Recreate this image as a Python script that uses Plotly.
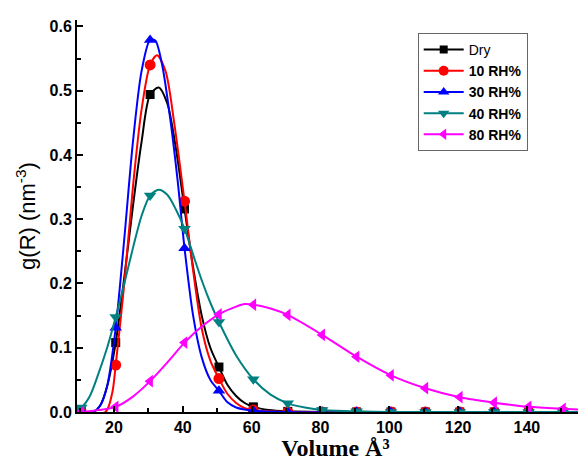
import plotly.graph_objects as go

# ---- data ----
marker_x = [10.5, 20.5, 30.5, 40.5, 50.5, 60.5, 70.5, 80.5, 90.5, 100.5, 110.5, 120.5, 130.5, 140.5, 150.5]

dry_y = [0.002, 0.108, 0.494, 0.316, 0.070, 0.008, 0.001, 0.0, 0.0, 0.0, 0.0, 0.0, 0.0, 0.0, 0.0]
rh10_y = [0.0, 0.073, 0.540, 0.328, 0.052, 0.003, 0.0, 0.0, 0.0, 0.0, 0.0, 0.0, 0.0, 0.0, 0.0]
rh30_y = [0.001, 0.131, 0.579, 0.255, 0.033, 0.002, 0.0, 0.0, 0.0, 0.0, 0.0, 0.0, 0.0, 0.0, 0.0]
rh40_y = [0.007, 0.148, 0.337, 0.285, 0.140, 0.051, 0.0135, 0.003, 0.001, 0.0, 0.0, 0.0, 0.0, 0.0, 0.0]
rh80_y = [0.0, 0.008, 0.048, 0.108, 0.152, 0.167, 0.151, 0.120, 0.086, 0.057, 0.037, 0.023, 0.0145, 0.008, 0.005]

# fitted curves
dry_cx = [9.25, 14, 16, 18, 20.5, 23, 25.5, 28, 30.5, 33, 35.5, 38, 40.5, 43, 45.5, 48, 50.5, 53, 55.5, 58, 60.5, 65, 70.5, 80, 159.5]
dry_cy = [0.0, 0.0, 0.01, 0.04, 0.108, 0.21, 0.32, 0.42, 0.494, 0.505, 0.48, 0.41, 0.316, 0.225, 0.15, 0.10, 0.07, 0.042, 0.025, 0.014, 0.008, 0.003, 0.001, 0.0, 0.0]

rh10_cx = [9.25, 17.5, 19.5, 20.5, 23, 25.5, 28, 30.5, 32.5, 35, 37.5, 40.5, 43, 45.5, 48, 50.5, 53, 55.5, 58, 60.5, 65, 75, 159.5]
rh10_cy = [0.0, 0.0, 0.03, 0.073, 0.2, 0.35, 0.47, 0.54, 0.555, 0.53, 0.45, 0.328, 0.22, 0.13, 0.08, 0.052, 0.028, 0.014, 0.006, 0.003, 0.001, 0.0, 0.0]

rh30_cx = [9.25, 14, 16, 18, 20.5, 23, 25.5, 28, 30.5, 32, 34, 36.5, 38.5, 40.5, 43, 45.5, 48, 50.5, 53, 55.5, 60.5, 70, 159.5]
rh30_cy = [0.0, 0.0, 0.01, 0.04, 0.131, 0.27, 0.42, 0.53, 0.579, 0.578, 0.54, 0.45, 0.36, 0.255, 0.15, 0.085, 0.05, 0.033, 0.015, 0.007, 0.002, 0.0, 0.0]

rh40_cx = [9.25, 10.5, 13, 15.5, 18, 20.5, 23, 25.5, 28, 30.5, 33, 35.5, 38, 40.5, 43, 45.5, 48, 50.5, 55.5, 60.5, 65.5, 70.5, 75.5, 80.5, 90.5, 100, 159.5]
rh40_cy = [0.004, 0.007, 0.025, 0.06, 0.10, 0.148, 0.2, 0.255, 0.305, 0.337, 0.346, 0.338, 0.315, 0.285, 0.245, 0.205, 0.17, 0.14, 0.088, 0.051, 0.027, 0.0135, 0.007, 0.003, 0.001, 0.0, 0.0]

rh80_cx = [9.25, 10.5, 15.5, 20.5, 25.5, 30.5, 35.5, 40.5, 45.5, 50.5, 55.5, 58, 60.5, 65.5, 70.5, 80.5, 90.5, 100.5, 110.5, 120.5, 130.5, 140.5, 150.5, 159.5]
rh80_cy = [0.0, 0.0, 0.003, 0.008, 0.024, 0.048, 0.077, 0.108, 0.133, 0.152, 0.164, 0.168, 0.167, 0.161, 0.151, 0.120, 0.086, 0.057, 0.037, 0.023, 0.0145, 0.008, 0.005, 0.003]

series = [
    ("Dry", dry_y, dry_cx, dry_cy, "#000000", "square", 9),
    ("<b>10 RH%</b>", rh10_y, rh10_cx, rh10_cy, "#FF0000", "circle", 11),
    ("<b>30 RH%</b>", rh30_y, rh30_cx, rh30_cy, "#0000FF", "triangle-up", 11),
    ("<b>40 RH%</b>", rh40_y, rh40_cx, rh40_cy, "#008080", "triangle-down", 11),
    ("<b>80 RH%</b>", rh80_y, rh80_cx, rh80_cy, "#FF00FF", "triangle-left", 11),
]

fig = go.Figure()
for name, my, cx, cy, col, sym, ms in series:
    fig.add_trace(go.Scatter(x=cx, y=cy, mode="lines", line=dict(color=col, width=2, shape="spline", smoothing=0.8),
                             showlegend=False, hoverinfo="skip"))
    fig.add_trace(go.Scatter(x=marker_x, y=my, mode="markers",
                             marker=dict(color=col, symbol=sym, size=ms, line=dict(width=0)),
                             showlegend=False))
    fig.add_trace(go.Scatter(x=[None], y=[None], mode="lines+markers", name=name,
                             line=dict(color=col, width=2),
                             marker=dict(color=col, symbol=sym, size=ms - 1, line=dict(width=0))))

fig.update_layout(
    width=586, height=453,
    margin=dict(l=69, r=0, t=12, b=49),
    paper_bgcolor="white", plot_bgcolor="white",
    font=dict(family="Liberation Sans, Arial", color="black"),
    showlegend=True,
    legend=dict(x=0.659, y=0.967, xanchor="left", yanchor="top",
                bgcolor="white", bordercolor="#666666", borderwidth=1,
                font=dict(size=14, family="Liberation Sans, Arial", color="black"),
                tracegroupgap=0, itemwidth=40),
)
fig.update_xaxes(
    range=[9.25, 159.5], showgrid=False, zeroline=False,
    showline=True, linecolor="black", linewidth=2,
    ticks="inside", ticklen=6, tickwidth=2, tickcolor="black",
    tick0=0, dtick=20,
    minor=dict(ticks="inside", ticklen=4, tickwidth=2, tickcolor="black", dtick=10, tick0=0),
    tickfont=dict(size=16, family="Liberation Sans, Arial", color="black", weight="bold"),
    title=dict(text="Volume Å³", standoff=6,
               font=dict(size=24, family="Liberation Serif, Times New Roman", color="black", weight="bold")),
)
fig.update_yaxes(
    range=[0, 0.61], showgrid=False, zeroline=False,
    showline=True, linecolor="black", linewidth=2,
    ticks="inside", ticklen=6, tickwidth=2, tickcolor="black",
    tick0=0, dtick=0.1, tickformat=".1f",
    minor=dict(ticks="inside", ticklen=4, tickwidth=2, tickcolor="black", dtick=0.05, tick0=0),
    tickfont=dict(size=16, family="Liberation Sans, Arial", color="black", weight="bold"),
    title=dict(text="g(R) (nm<sup>-3</sup>)", standoff=8,
               font=dict(size=22, family="Liberation Sans, Arial", color="black")),
)

fig.write_html("out.html")
